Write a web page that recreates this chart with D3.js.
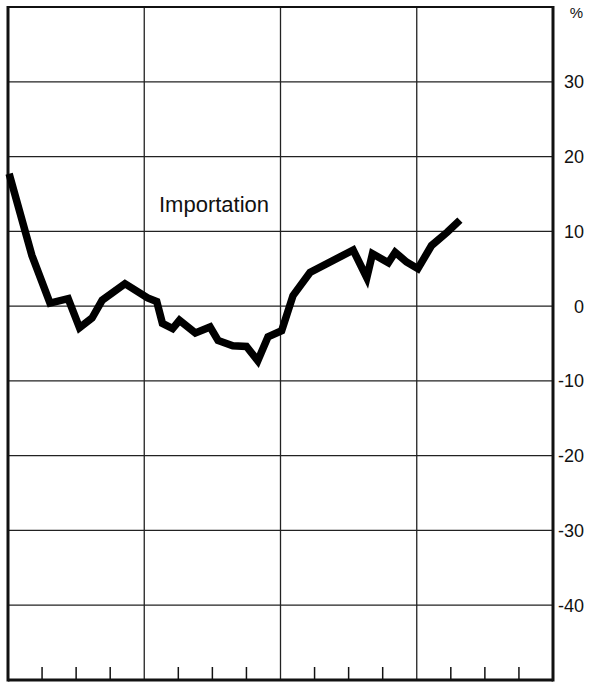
<!DOCTYPE html>
<html>
<head>
<meta charset="utf-8">
<script src="https://cdn.jsdelivr.net/npm/d3@7"></script>
<style>
  html, body { margin: 0; padding: 0; background: #fff; }
  svg { display: block; }
  text { font-family: "Liberation Sans", Arial, Helvetica, sans-serif; fill: #111; }
</style>
</head>
<body>
<svg id="chart" width="601" height="686"></svg>
<script>
// ---- data (months from start of period, % change) ----
const months = [0.1, 2.1, 3.7, 5.3, 6.3, 7.4, 8.3, 10.3, 12.3, 13.1, 13.6, 14.5, 15.1, 16.5, 17.8, 18.5, 19.8, 21.0, 22.0, 22.9, 24.1, 25.1, 26.6, 30.4, 31.6, 32.1, 33.5, 34.1, 35.1, 36.1, 37.3, 38.7, 39.8];
const values = [17.7, 6.8, 0.4, 1.0, -2.9, -1.6, 0.8, 3.0, 1.1, 0.6, -2.3, -3.0, -1.9, -3.6, -2.8, -4.6, -5.3, -5.4, -7.3, -4.1, -3.3, 1.4, 4.5, 7.5, 3.8, 7.0, 5.8, 7.2, 5.9, 5.0, 8.1, 9.9, 11.5];
const seriesLabel = "Importation";
const yTickValues = [30, 20, 10, 0, -10, -20, -30, -40];
const yTickLabels = ["30", "20", "10", "0", "-10", "-20", "-30", "-40"];
const unitLabel = "%";
const yearLines = [12, 24, 36];
const quarterTicks = [3, 6, 9, 15, 18, 21, 27, 30, 33, 39, 42, 45];

const svg = d3.select("#chart");
const pL = 8, pR = 553, pT = 7, pB = 680;

const x = d3.scaleLinear().domain([0, 48]).range([pL, pR]);
const y = d3.scaleLinear().domain([-50, 40]).range([pB, pT]);

// horizontal gridlines
svg.append("g").selectAll("line").data(yTickValues).join("line")
  .attr("x1", pL).attr("x2", pR)
  .attr("y1", d => y(d)).attr("y2", d => y(d))
  .attr("stroke", "#222").attr("stroke-width", 1.3);

// vertical year lines
svg.append("g").selectAll("line").data(yearLines).join("line")
  .attr("x1", d => x(d)).attr("x2", d => x(d))
  .attr("y1", pT).attr("y2", pB)
  .attr("stroke", "#222").attr("stroke-width", 1.3);

// bottom quarter ticks
svg.append("g").selectAll("line").data(quarterTicks).join("line")
  .attr("x1", d => x(d)).attr("x2", d => x(d))
  .attr("y1", pB - 13).attr("y2", pB)
  .attr("stroke", "#111").attr("stroke-width", 1.5);

// frame
svg.append("line").attr("x1", pL).attr("x2", pR).attr("y1", pT).attr("y2", pT)
  .attr("stroke", "#111").attr("stroke-width", 2);
svg.append("line").attr("x1", pL).attr("x2", pR).attr("y1", pB).attr("y2", pB)
  .attr("stroke", "#111").attr("stroke-width", 3);
svg.append("line").attr("x1", pL).attr("x2", pL).attr("y1", pT - 1).attr("y2", pB + 1.5)
  .attr("stroke", "#111").attr("stroke-width", 3);
svg.append("line").attr("x1", pR).attr("x2", pR).attr("y1", pT - 1).attr("y2", pB + 1.5)
  .attr("stroke", "#111").attr("stroke-width", 3);

// y labels on the right
svg.append("g").selectAll("text").data(yTickValues).join("text")
  .attr("x", 584).attr("y", d => y(d))
  .attr("dy", "0.36em")
  .attr("text-anchor", "end")
  .attr("font-size", 18)
  .text((d, i) => yTickLabels[i]);

svg.append("text").attr("x", 583).attr("y", 13).attr("dy", "0.36em")
  .attr("text-anchor", "end").attr("font-size", 15).text(unitLabel);

// series line
const line = d3.line().x((d, i) => x(months[i])).y(d => y(d));
svg.append("path").datum(values)
  .attr("d", line)
  .attr("fill", "none")
  .attr("stroke", "#000")
  .attr("stroke-width", 7.5)
  .attr("stroke-linejoin", "miter")
  .attr("stroke-miterlimit", 3)
  .attr("stroke-linecap", "butt");

// series label
svg.append("text").attr("x", 159).attr("y", 212)
  .attr("font-size", 22).text(seriesLabel);
</script>
</body>
</html>
